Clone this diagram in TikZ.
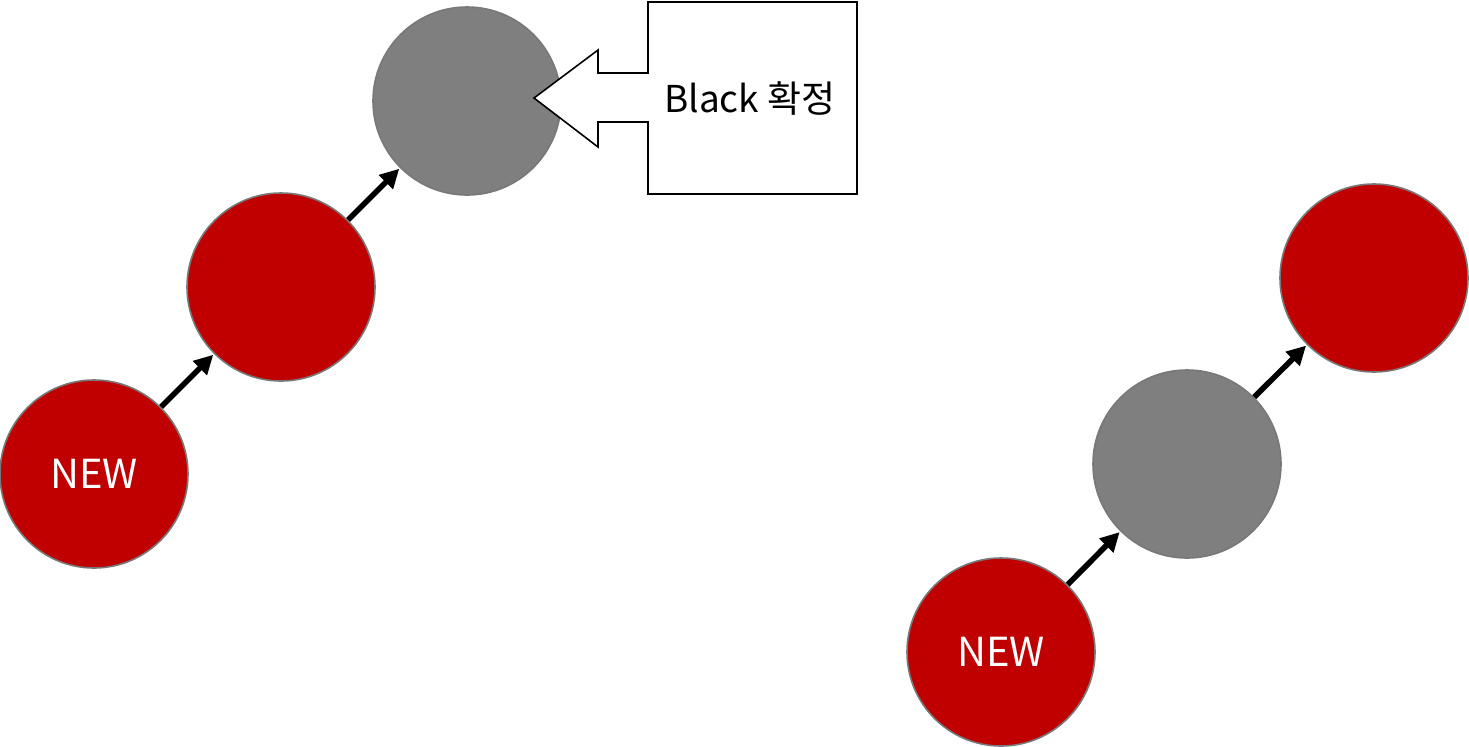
\documentclass[tikz,border=0pt]{standalone}
\usepackage{fontspec}
\newfontfamily\krfont{Noto Sans CJK KR}
\usetikzlibrary{arrows.meta}
\definecolor{nodered}{RGB}{192,0,0}
\definecolor{nodegrey}{RGB}{127,127,127}
\definecolor{rim}{RGB}{120,120,120}

\begin{document}
\begin{tikzpicture}[
  x=0.5pt, y=-0.5pt,
  rbnode/.style={circle, draw=rim, line width=0.8pt, minimum size=94pt, inner sep=0pt,
    font=\krfont\fontsize{20}{24}\selectfont, text=white},
  red/.style={rbnode, fill=nodered},
  black/.style={rbnode, fill=nodegrey},
  link/.style={-{Triangle[length=9.5pt, width=9.5pt]}, line width=2.8pt, shorten >=0.5pt},
]
  \useasboundingbox (0,0) rectangle (1469,746);
  % left chain
  \node[red]   (new1) at (94,474)  {NEW};
  \node[red]   (par1) at (281,287) {};
  \node[black] (gp1)  at (467,101) {};
  \draw[link] (new1) -- (par1);
  \draw[link] (par1) -- (gp1);
  % callout
  \draw[line width=0.8pt, fill=white] (648,2) -- (857,2) -- (857,194) -- (648,194) -- (648,122)
    -- (598,122) -- (598,147) -- (534,98) -- (598,50) -- (598,73) -- (648,73) -- cycle;
  \node[font=\krfont\fontsize{18.5}{22}\selectfont] (fix) at (750,99) {Black 확정};
  % right chain
  \node[red]   (new2) at (1001,652) {NEW};
  \node[black] (par2) at (1187,464) {};
  \node[red]   (gp2)  at (1374,278) {};
  \draw[link] (new2) -- (par2);
  \draw[link] (par2) -- (gp2);
\end{tikzpicture}
\end{document}
